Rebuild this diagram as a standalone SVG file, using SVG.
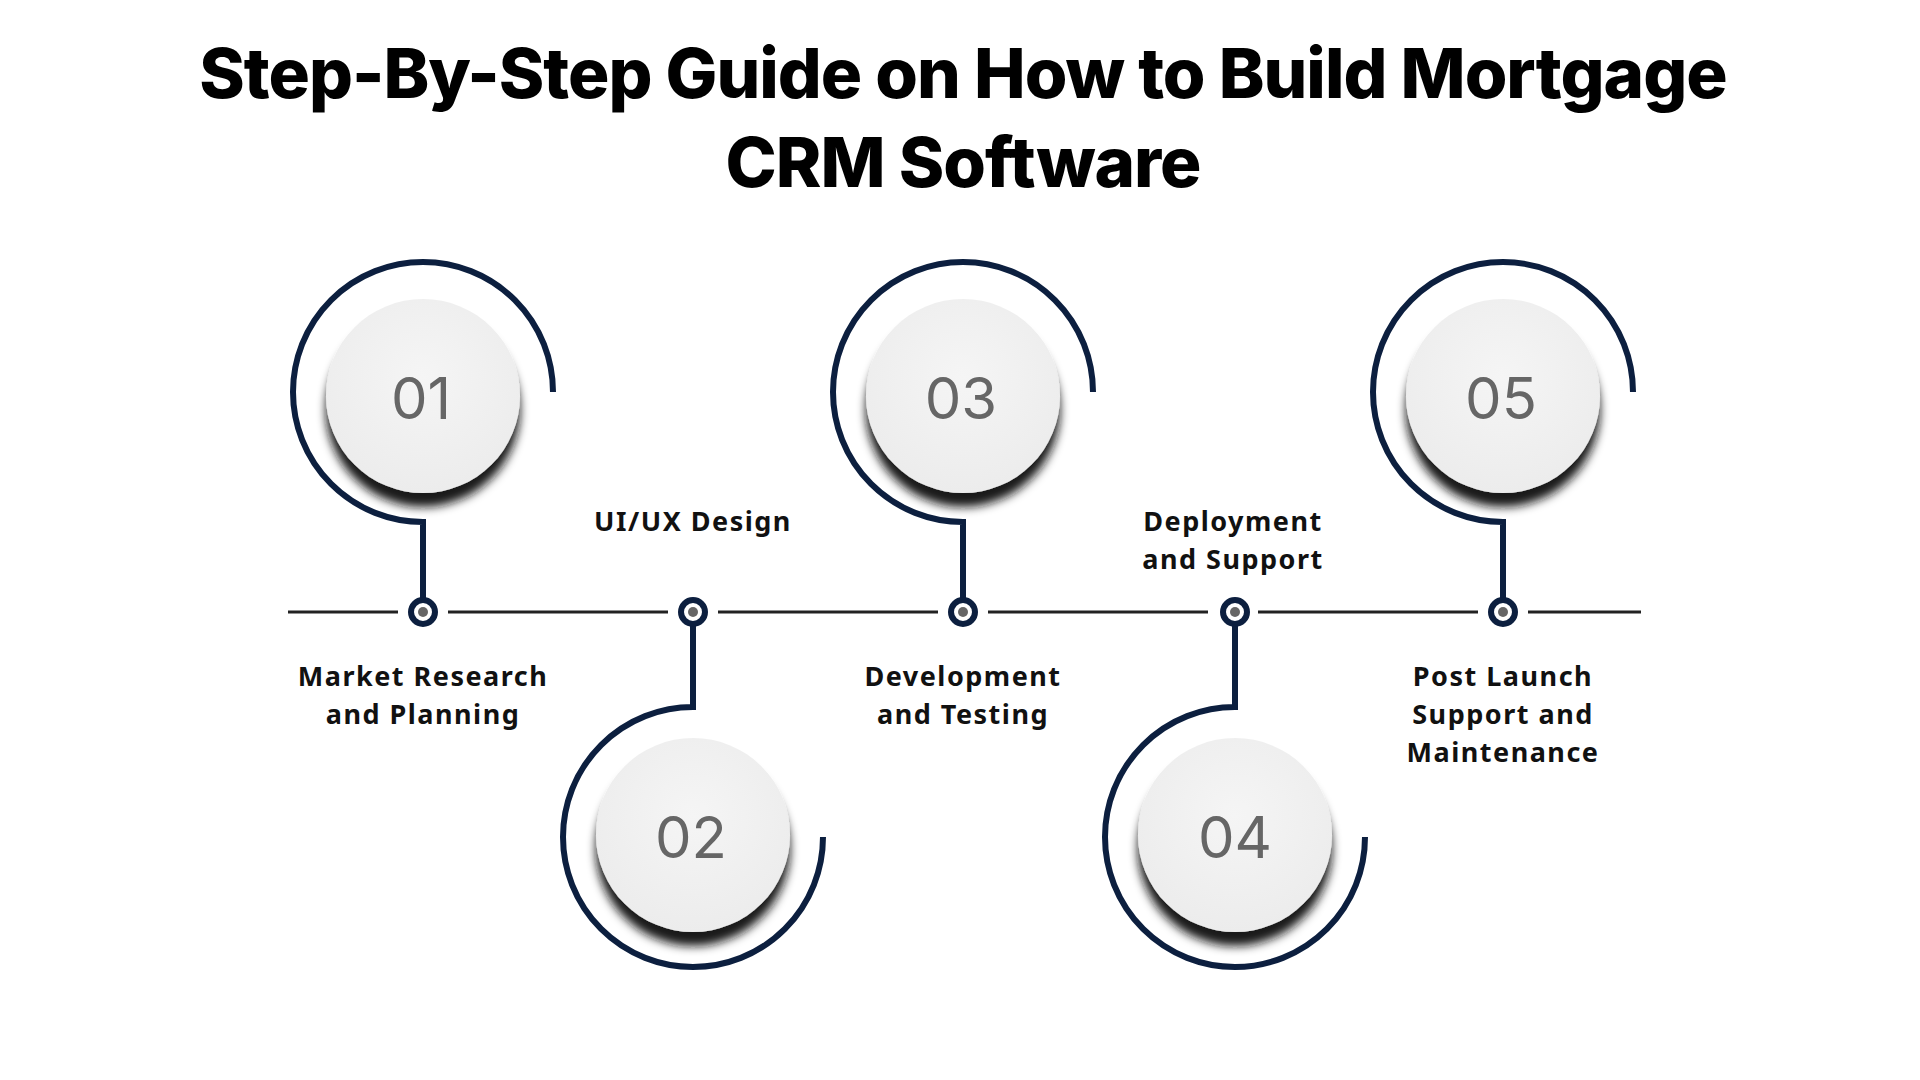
<svg xmlns="http://www.w3.org/2000/svg" width="1920" height="1080" viewBox="0 0 1920 1080">
<defs>
<filter id="sh" x="-30%" y="-30%" width="160%" height="170%">
<feGaussianBlur in="SourceAlpha" stdDeviation="5"/>
<feOffset dx="0" dy="14" result="b"/>
<feFlood flood-color="#111" flood-opacity="0.95"/>
<feComposite in2="b" operator="in"/>
<feMerge><feMergeNode/><feMergeNode in="SourceGraphic"/></feMerge>
</filter>
<radialGradient id="dg" cx="0.5" cy="0.4" r="0.6">
<stop offset="0" stop-color="#f5f5f5"/><stop offset="1" stop-color="#ececec"/>
</radialGradient>
</defs>
<style>
.ring{fill:none;stroke:#0c1f3f;stroke-width:6}
.disc{fill:url(#dg);filter:url(#sh)}
.num{font-family:Inter,"Open Sans",sans-serif;font-size:58px;fill:#666;text-anchor:middle}
.lbl{font-family:"Noto Sans","DejaVu Sans",sans-serif;font-weight:700;font-size:27px;letter-spacing:1.5px;fill:#111;text-anchor:middle}
.title{font-family:Inter,"Roboto",sans-serif;font-weight:800;font-size:69px;fill:#000;text-anchor:middle;letter-spacing:-1px}
.tl{stroke:#222;stroke-width:3}
.dot{fill:#fff;stroke:#0c1f3f;stroke-width:6}
.dc{fill:#666}
</style>
<rect width="1920" height="1080" fill="#fff"/>
<text class="title" x="963" y="98">Step-By-Step Guide on How to Build Mortgage</text>
<text class="title" x="963" y="187">CRM Software</text>
<g id="connectors">
<line class="tl" x1="288" y1="612" x2="398" y2="612"/>
<line class="tl" x1="448" y1="612" x2="668" y2="612"/>
<line class="tl" x1="718" y1="612" x2="938" y2="612"/>
<line class="tl" x1="988" y1="612" x2="1208" y2="612"/>
<line class="tl" x1="1258" y1="612" x2="1478" y2="612"/>
<line class="tl" x1="1528" y1="612" x2="1641" y2="612"/>
</g>
<g id="step1">
<path class="ring" d="M423 612 V522 A130 130 0 1 1 553 392"/>
<circle class="disc" cx="423" cy="396" r="97"/>
<text class="num" x="421" y="419">01</text>
<circle class="dot" cx="423" cy="612" r="12"/><circle class="dc" cx="423" cy="612" r="5"/>
<text class="lbl" x="423" y="686">Market Research</text>
<text class="lbl" x="423" y="724">and Planning</text>
</g>
<g id="step2">
<path class="ring" d="M693 612 V707 A130 130 0 1 0 823 837"/>
<circle class="disc" cx="693" cy="835" r="97"/>
<text class="num" x="691" y="858">02</text>
<circle class="dot" cx="693" cy="612" r="12"/><circle class="dc" cx="693" cy="612" r="5"/>
<text class="lbl" x="693" y="531">UI/UX Design</text>
</g>
<g id="step3">
<path class="ring" d="M963 612 V522 A130 130 0 1 1 1093 392"/>
<circle class="disc" cx="963" cy="396" r="97"/>
<text class="num" x="961" y="419">03</text>
<circle class="dot" cx="963" cy="612" r="12"/><circle class="dc" cx="963" cy="612" r="5"/>
<text class="lbl" x="963" y="686">Development</text>
<text class="lbl" x="963" y="724">and Testing</text>
</g>
<g id="step4">
<path class="ring" d="M1235 612 V707 A130 130 0 1 0 1365 837"/>
<circle class="disc" cx="1235" cy="835" r="97"/>
<text class="num" x="1235" y="858">04</text>
<circle class="dot" cx="1235" cy="612" r="12"/><circle class="dc" cx="1235" cy="612" r="5"/>
<text class="lbl" x="1233" y="531">Deployment</text>
<text class="lbl" x="1233" y="569">and Support</text>
</g>
<g id="step5">
<path class="ring" d="M1503 612 V522 A130 130 0 1 1 1633 392"/>
<circle class="disc" cx="1503" cy="396" r="97"/>
<text class="num" x="1501" y="419">05</text>
<circle class="dot" cx="1503" cy="612" r="12"/><circle class="dc" cx="1503" cy="612" r="5"/>
<text class="lbl" x="1503" y="686">Post Launch</text>
<text class="lbl" x="1503" y="724">Support and</text>
<text class="lbl" x="1503" y="762">Maintenance</text>
</g>
</svg>
